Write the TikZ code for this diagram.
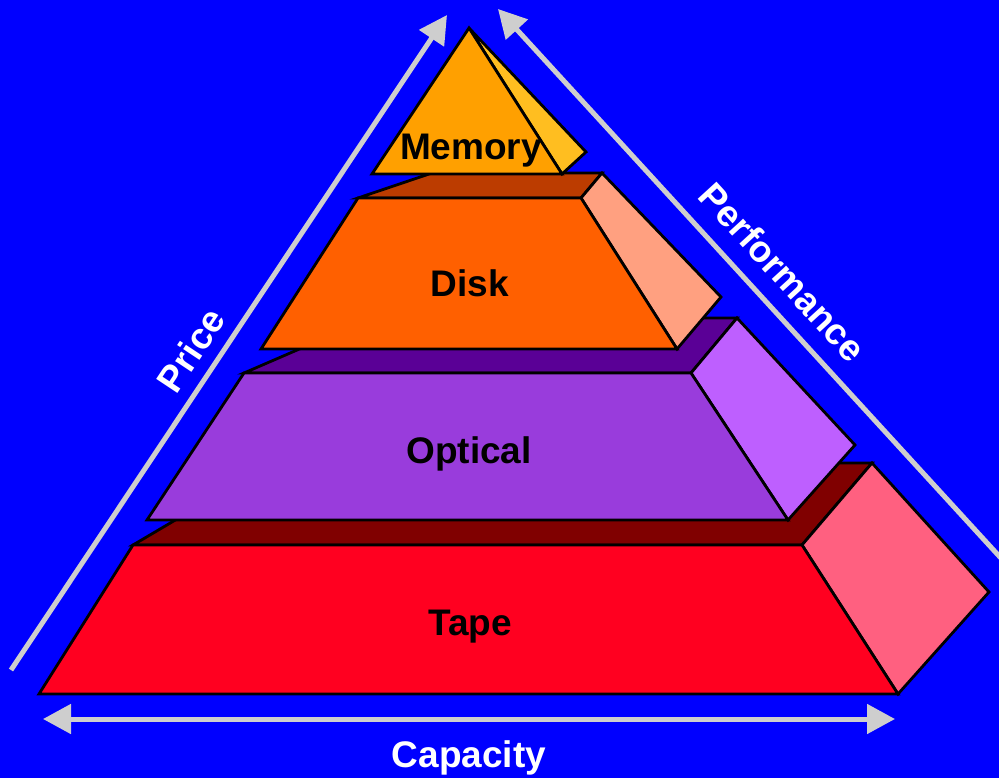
\documentclass[tikz,border=0pt]{standalone}
\usepackage{fontspec}
\setmainfont{Liberation Sans}
\usetikzlibrary{arrows.meta}
\definecolor{bgblue}{RGB}{0,0,255}
\definecolor{arrgray}{RGB}{206,206,206}
\definecolor{memfront}{RGB}{255,160,0}
\definecolor{memside}{RGB}{255,190,32}
\definecolor{diskfront}{RGB}{255,96,0}
\definecolor{disktop}{RGB}{188,60,0}
\definecolor{diskside}{RGB}{255,160,128}
\definecolor{optfront}{RGB}{153,60,220}
\definecolor{opttop}{RGB}{90,0,150}
\definecolor{optside}{RGB}{190,95,255}
\definecolor{tapefront}{RGB}{255,0,32}
\definecolor{tapetop}{RGB}{128,0,0}
\definecolor{tapeside}{RGB}{255,96,128}
\tikzset{
  face/.style={draw=black, line width=2.8pt, line join=miter},
  garrow/.style={draw=arrgray, line width=5pt, -{Triangle[length=28pt,width=29pt]}},
  gdarrow/.style={draw=arrgray, line width=5pt, {Triangle[length=28pt,width=29pt]}-{Triangle[length=28pt,width=29pt]}},
  lbl/.style={font=\fontsize{37}{42}\selectfont\bfseries, text=black, inner sep=0pt},
  wlbl/.style={font=\fontsize{37}{42}\selectfont\bfseries, text=white, inner sep=0pt}
}
\begin{document}
\begin{tikzpicture}[x=1pt,y=-1pt]
\fill[bgblue] (0,0) rectangle (999,778);
\useasboundingbox (0,0) rectangle (999,778);
\begin{scope}
\clip (0,0) rectangle (999,778);
% arrows
\coordinate (priceS) at (11,670);
\coordinate (priceE) at (447,15);
\coordinate (perfS) at (1010,568);
\coordinate (perfE) at (498,9);
\coordinate (capL) at (43,719);
\coordinate (capR) at (895,719);
\draw[garrow] (priceS) -- (priceE);
\draw[garrow] (perfS) -- (perfE);
\draw[gdarrow] (capL) -- (capR);
% tape
\path[face, fill=tapetop] (133,545) -- (272,463) -- (872,463) -- (802,545) -- cycle;
\path[face, fill=tapeside] (802,545) -- (872,463) -- (989,592) -- (898,694) -- cycle;
\path[face, fill=tapefront] (39,694) -- (133,545) -- (802,545) -- (898,694) -- cycle;
% optical
\path[face, fill=opttop] (244,373) -- (371,318) -- (737,318) -- (691,373) -- cycle;
\path[face, fill=optside] (691,373) -- (737,318) -- (855,445) -- (788,520) -- cycle;
\path[face, fill=optfront] (147,520) -- (244,373) -- (691,373) -- (788,520) -- cycle;
% disk
\path[face, fill=disktop] (358,198) -- (432,173) -- (602,173) -- (581,198) -- cycle;
\path[face, fill=diskside] (581,198) -- (602,173) -- (721,297) -- (677,349) -- cycle;
\path[face, fill=diskfront] (261,349) -- (358,198) -- (581,198) -- (677,349) -- cycle;
% memory
\path[face, fill=memside] (469,28) -- (586,152) -- (562,174) -- cycle;
\path[face, fill=memfront] (469,28) -- (372,174) -- (562,174) -- cycle;
\end{scope}
% labels
\node[lbl] (mem) at (471,151) {Memory};
\node[lbl] (disk) at (470,283) {Disk};
\node[lbl] (opt) at (469,454) {Optical};
\node[lbl] (tape) at (470,627) {Tape};
\node[wlbl] (cap) at (469,758) {Capacity};
\node[wlbl, rotate=56.4] (price) at (191,350) {Price};
\node[wlbl, rotate=-47.5] (perf) at (783,272) {Performance};
\end{tikzpicture}
\end{document}
